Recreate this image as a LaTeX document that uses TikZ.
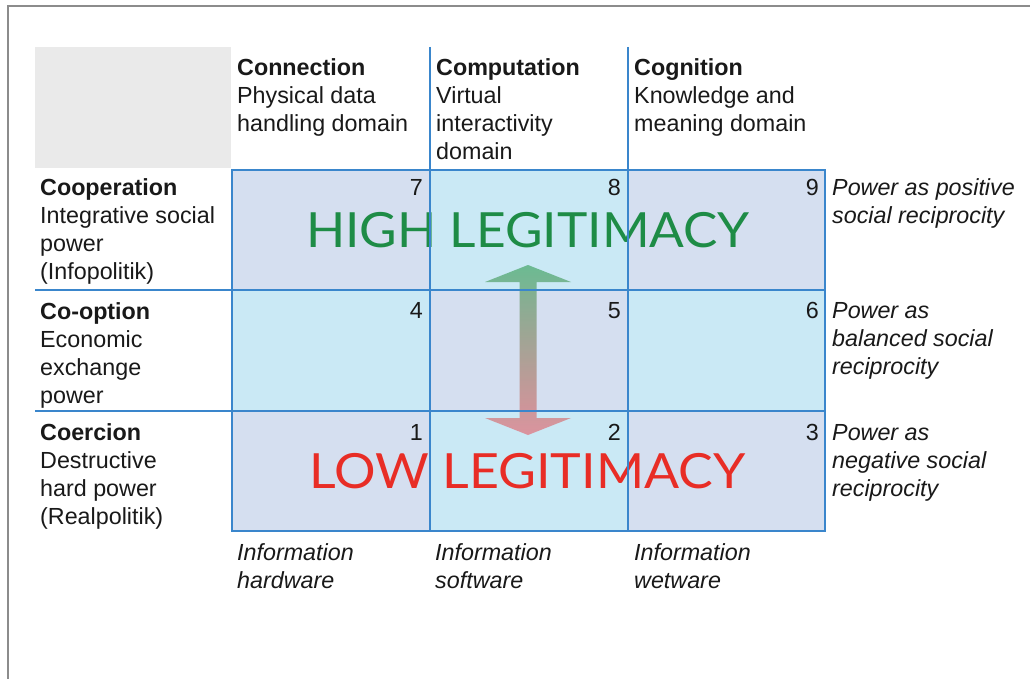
\documentclass[tikz,border=0pt]{standalone}
\usepackage{fontspec}
\setmainfont{Liberation Sans}
\newfontfamily\legfont{Lato}
\definecolor{txt}{RGB}{25,25,25}
\definecolor{lav}{RGB}{213,223,240}
\definecolor{cya}{RGB}{202,233,245}
\definecolor{gridblue}{RGB}{58,134,204}
\definecolor{hdrgray}{RGB}{234,234,234}
\definecolor{framegray}{RGB}{140,140,140}
\definecolor{hiGreen}{RGB}{30,140,70}
\definecolor{loRed}{RGB}{232,45,38}
\definecolor{arrGreen}{RGB}{45,155,80}
\definecolor{arrRed}{RGB}{232,90,100}
\newcommand\ml[1]{\begin{tabular}[t]{@{}l@{}}#1\end{tabular}}
\tikzset{
  lbl/.style={anchor=base west, inner sep=0pt, font=\fontsize{23.3}{28}\selectfont, text=txt},
  ilbl/.style={lbl, font=\fontsize{23.3}{28}\selectfont\itshape},
  num/.style={anchor=base east, inner sep=0pt, font=\fontsize{23.3}{28}\selectfont, text=txt},
  gline/.style={draw=gridblue, line width=2pt},
  legit/.style={anchor=base, inner sep=0pt, font=\fontsize{48.5}{50}\selectfont\legfont},
}
\begin{document}
\begin{tikzpicture}[x=1pt,y=-1pt]
\useasboundingbox (0,0) rectangle (1030,679);
\fill[white] (0,0) rectangle (1030,679);
\draw[framegray, line width=1.5pt] (8,679) -- (8,6) -- (1030,6);
% header gray box
\fill[hdrgray] (35,47) rectangle (231,168);
% cells
\fill[lav] (232,170) rectangle (430,290);
\fill[cya] (430,170) rectangle (628,290);
\fill[lav] (628,170) rectangle (825,290);
\fill[cya] (232,290) rectangle (430,411);
\fill[lav] (430,290) rectangle (628,411);
\fill[cya] (628,290) rectangle (825,411);
\fill[lav] (232,411) rectangle (430,531);
\fill[cya] (430,411) rectangle (628,531);
\fill[lav] (628,411) rectangle (825,531);
% legitimacy texts
\node[legit, text=hiGreen] (high) at (528,247) {\scalebox{1.06}[1]{HIGH LEGITIMACY}};
\node[legit, text=loRed] (low) at (527.5,488) {\scalebox{1.07}[1]{LOW LEGITIMACY}};
% gradient double arrow
\shade[top color=arrGreen, bottom color=arrRed, opacity=0.6]
  (528,265) -- (571,282) -- (536.5,282) -- (536.5,418) -- (571,418) -- (528,435)
  -- (485,418) -- (519.5,418) -- (519.5,282) -- (485,282) -- cycle;
% grid lines
\draw[gline] (232,170) rectangle (825,531);
\draw[gline] (430,47) -- (430,531);
\draw[gline] (628,47) -- (628,531);
\draw[gline] (35,290) -- (825,290);
\draw[gline] (35,411) -- (825,411);
% header labels
\node[lbl] (h1) at (237,76) {\ml{\textbf{Connection}\\Physical data\\handling domain}};
\node[lbl] (h2) at (436,76) {\ml{\textbf{Computation}\\Virtual\\interactivity\\domain}};
\node[lbl] (h3) at (634,76) {\ml{\textbf{Cognition}\\Knowledge and\\meaning domain}};
% row labels
\node[lbl] (r1) at (40,196) {\ml{\textbf{Cooperation}\\Integrative social\\power\\(Infopolitik)}};
\node[lbl] (r2) at (40,319) {\ml{\textbf{Co-option}\\Economic\\exchange\\power}};
\node[lbl] (r3) at (40,440) {\ml{\textbf{Coercion}\\Destructive\\hard power\\(Realpolitik)}};
% numbers
\node[num] (n7) at (423,196) {7};
\node[num] (n8) at (621,196) {8};
\node[num] (n9) at (819,196) {9};
\node[num] (n4) at (423,318) {4};
\node[num] (n5) at (621,318) {5};
\node[num] (n6) at (819,318) {6};
\node[num] (n1) at (423,440) {1};
\node[num] (n2) at (621,440) {2};
\node[num] (n3) at (819,440) {3};
% right labels
\node[ilbl] (p1) at (832,196) {\ml{Power as positive\\social reciprocity}};
\node[ilbl] (p2) at (832,318) {\ml{Power as\\balanced social\\reciprocity}};
\node[ilbl] (p3) at (832,440) {\ml{Power as\\negative social\\reciprocity}};
% bottom labels
\node[ilbl] (b1) at (237,560) {\ml{Information\\hardware}};
\node[ilbl] (b2) at (435,560) {\ml{Information\\software}};
\node[ilbl] (b3) at (634,560) {\ml{Information\\wetware}};
\end{tikzpicture}
\end{document}
